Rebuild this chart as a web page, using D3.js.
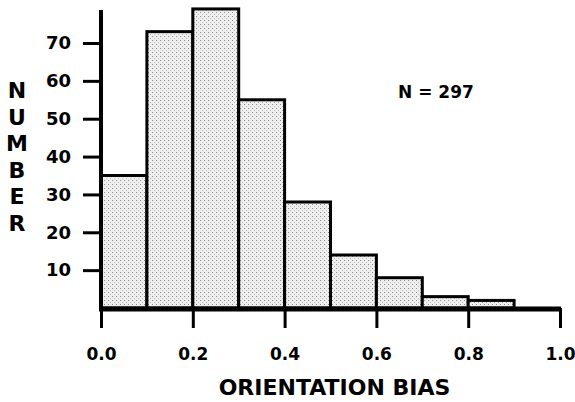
<!DOCTYPE html>
<html>
<head>
<meta charset="utf-8">
<script src="https://cdn.jsdelivr.net/npm/d3@7"></script>
<style>
  body { margin: 0; background: #fff; }
  svg { display: block; font-family: "DejaVu Sans", sans-serif; font-weight: bold; }
</style>
</head>
<body>
<svg id="chart" width="575" height="402"></svg>
<script>
// histogram bins (orientation bias) and counts
var binStarts = [0.0, 0.1, 0.2, 0.3, 0.4, 0.5, 0.6, 0.7, 0.8];
var binWidth = 0.1;
var counts = [35, 73, 79, 55, 28, 14, 8, 3, 2];
var yTicks = [10, 20, 30, 40, 50, 60, 70];
var xTicks = [0.0, 0.2, 0.4, 0.6, 0.8, 1.0];
var yLetters = ['N', 'U', 'M', 'B', 'E', 'R'];

var svg = d3.select('#chart');

var x = d3.scaleLinear().domain([0, 1]).range([101, 560]);
var y = d3.scaleLinear().domain([0, 70]).range([308, 43]);

// stipple fill
var defs = svg.append('defs');
var pat = defs.append('pattern')
  .attr('id', 'dots')
  .attr('width', 4).attr('height', 4)
  .attr('patternUnits', 'userSpaceOnUse');
pat.append('rect').attr('width', 4).attr('height', 4).attr('fill', '#efefef');
pat.append('rect').attr('x', 0).attr('y', 0).attr('width', 1).attr('height', 1).attr('fill', '#8a8a8a');
pat.append('rect').attr('x', 2).attr('y', 2).attr('width', 1).attr('height', 1).attr('fill', '#b5b5b5');

// bars
svg.append('g')
  .selectAll('rect')
  .data(counts)
  .enter()
  .append('rect')
  .attr('x', function (d, i) { return x(binStarts[i]); })
  .attr('y', function (d) { return y(d); })
  .attr('width', function (d, i) { return x(binStarts[i] + binWidth) - x(binStarts[i]); })
  .attr('height', function (d) { return y(0) - y(d); })
  .attr('fill', 'url(#dots)')
  .attr('stroke', '#000')
  .attr('stroke-width', 3);

// y axis
var yAxis = svg.append('g')
  .attr('transform', 'translate(' + x(0) + ',0)')
  .call(d3.axisLeft(y).tickValues(yTicks).tickSize(18).tickPadding(12));
yAxis.attr('font-family', null).attr('font-size', null);
yAxis.select('.domain').remove();
yAxis.selectAll('.tick line').attr('stroke', '#000').attr('stroke-width', 3);
yAxis.selectAll('.tick text')
  .attr('fill', '#000')
  .style('font-size', '18px');
yAxis.append('line')
  .attr('x1', 0).attr('x2', 0)
  .attr('y1', y(0) + 2).attr('y2', y(d3.max(counts)) + 1)
  .attr('stroke', '#000').attr('stroke-width', 4);

// x axis
var xAxis = svg.append('g')
  .attr('transform', 'translate(0,' + y(0) + ')')
  .call(d3.axisBottom(x).tickValues(xTicks).tickSize(20).tickPadding(20).tickFormat(d3.format('.1f')));
xAxis.attr('font-family', null).attr('font-size', null);
xAxis.select('.domain').remove();
xAxis.selectAll('.tick line').attr('stroke', '#000').attr('stroke-width', 3);
xAxis.selectAll('.tick text')
  .attr('fill', '#000')
  .style('font-size', '17px');
xAxis.append('line')
  .attr('x1', x(0) - 2).attr('x2', x(1) + 1)
  .attr('y1', 1).attr('y2', 1)
  .attr('stroke', '#000').attr('stroke-width', 5);

// axis titles
svg.append('text')
  .attr('x', x(0.5) + 4)
  .attr('y', 395)
  .attr('text-anchor', 'middle')
  .style('font-size', '22px')
  .text('ORIENTATION BIAS');

svg.append('g')
  .selectAll('text')
  .data(yLetters)
  .enter()
  .append('text')
  .attr('x', 17)
  .attr('y', function (d, i) { return 98 + i * 26.6; })
  .attr('text-anchor', 'middle')
  .style('font-size', '22px')
  .text(function (d) { return d; });

svg.append('text')
  .attr('x', 398)
  .attr('y', 98)
  .style('font-size', '17px')
  .text('N = 297');
</script>
</body>
</html>
